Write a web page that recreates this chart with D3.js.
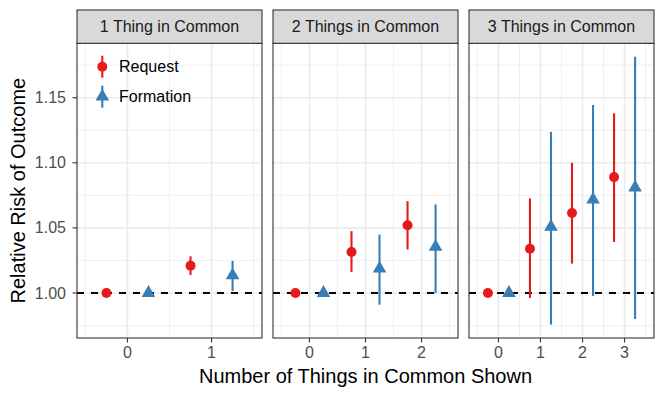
<!DOCTYPE html>
<html>
<head>
<meta charset="utf-8">
<script src="https://cdn.jsdelivr.net/npm/d3@7"></script>
<style>
  body { margin: 0; background: #fff; }
  text { font-family: "Liberation Sans", Arial, Helvetica, sans-serif; }
</style>
</head>
<body>
<div id="container"></div>
<script>
// facets, one per number of things in common
var panelTitles = ["1 Thing in Common", "2 Things in Common", "3 Things in Common"];
var shown = [[0, 1], [0, 1, 2], [0, 1, 2, 3]];
var seriesNames = ["Request", "Formation"];

// relative risk estimates and intervals, per panel
var requestEst = [[1.000, 1.021], [1.000, 1.0315, 1.052], [1.000, 1.034, 1.0615, 1.089]];
var requestLo = [[1.000, 1.0138], [1.000, 1.0162, 1.0334], [1.000, 0.9962, 1.0226, 1.0392]];
var requestHi = [[1.000, 1.0282], [1.000, 1.0475, 1.0705], [1.000, 1.0726, 1.100, 1.138]];
var formationEst = [[1.000, 1.0136], [1.000, 1.0188, 1.0354], [1.000, 1.0508, 1.0718, 1.081]];
var formationLo = [[1.000, 1.0015], [1.000, 0.991, 1.000], [1.000, 0.9757, 0.9977, 0.980]];
var formationHi = [[1.000, 1.0246], [1.000, 1.0449, 1.068], [1.000, 1.1238, 1.1444, 1.1815]];

var yTicks = [1.00, 1.05, 1.10, 1.15];
var yMinor = [0.975, 1.025, 1.075, 1.125, 1.175];

var width = 664, height = 399;
var colors = ["#E41A1C", "#377EB8"];
var dodge = 0.25;

var svg = d3.select("#container").append("svg")
    .attr("width", width).attr("height", height);

var panelTop = 43.3, panelBottom = 338, stripTop = 10;
var panelLeft = [77, 273, 469], panelW = 185;

// y scale shared, ggplot style 5% expansion
var allVals = d3.merge([].concat(requestLo, requestHi, formationLo, formationHi));
var ext = d3.extent(allVals);
var pad = (ext[1] - ext[0]) * 0.05;
var y = d3.scaleLinear().domain([ext[0] - pad, ext[1] + pad]).range([panelBottom, panelTop]);

var tri = d3.symbol().type(d3.symbolTriangle).size(80);

panelTitles.forEach(function (title, p) {
    var xs = shown[p];
    var lo = -0.5, hi = xs.length - 0.5;
    var xpad = (hi - lo) * 0.05;
    var x = d3.scaleLinear().domain([lo - xpad, hi + xpad])
        .range([panelLeft[p], panelLeft[p] + panelW]);

    var g = svg.append("g");
    g.append("rect").attr("x", panelLeft[p]).attr("y", panelTop)
        .attr("width", panelW).attr("height", panelBottom - panelTop).attr("fill", "#fff");

    // grid
    var xMinor = d3.range(lo, hi + 0.01, 1);
    g.selectAll(".ym").data(yMinor).enter().append("line")
        .attr("x1", panelLeft[p]).attr("x2", panelLeft[p] + panelW)
        .attr("y1", function (d) { return y(d); }).attr("y2", function (d) { return y(d); })
        .attr("stroke", "#EBEBEB").attr("stroke-width", 0.8);
    g.selectAll(".xm").data(xMinor).enter().append("line")
        .attr("y1", panelTop).attr("y2", panelBottom)
        .attr("x1", function (d) { return x(d); }).attr("x2", function (d) { return x(d); })
        .attr("stroke", "#EBEBEB").attr("stroke-width", 0.8);
    g.selectAll(".yM").data(yTicks).enter().append("line")
        .attr("x1", panelLeft[p]).attr("x2", panelLeft[p] + panelW)
        .attr("y1", function (d) { return y(d); }).attr("y2", function (d) { return y(d); })
        .attr("stroke", "#EBEBEB").attr("stroke-width", 1.6);
    g.selectAll(".xM").data(xs).enter().append("line")
        .attr("y1", panelTop).attr("y2", panelBottom)
        .attr("x1", function (d) { return x(d); }).attr("x2", function (d) { return x(d); })
        .attr("stroke", "#EBEBEB").attr("stroke-width", 1.6);

    // reference line
    g.append("line").attr("x1", panelLeft[p]).attr("x2", panelLeft[p] + panelW)
        .attr("y1", y(1)).attr("y2", y(1))
        .attr("stroke", "#000").attr("stroke-width", 2).attr("stroke-dasharray", "7,7");

    var sets = [
        { est: requestEst[p], lo: requestLo[p], hi: requestHi[p], off: -dodge, col: colors[0], shape: "circle" },
        { est: formationEst[p], lo: formationLo[p], hi: formationHi[p], off: dodge, col: colors[1], shape: "triangle" }
    ];
    sets.forEach(function (s) {
        var pts = xs.map(function (v, i) {
            return { x: v + s.off, est: s.est[i], lo: s.lo[i], hi: s.hi[i] };
        });
        g.selectAll(null).data(pts).enter().append("line")
            .attr("x1", function (d) { return x(d.x); }).attr("x2", function (d) { return x(d.x); })
            .attr("y1", function (d) { return y(d.lo); }).attr("y2", function (d) { return y(d.hi); })
            .attr("stroke", s.col).attr("stroke-width", 2.1);
        if (s.shape === "circle") {
            g.selectAll(null).data(pts).enter().append("circle")
                .attr("cx", function (d) { return x(d.x); }).attr("cy", function (d) { return y(d.est); })
                .attr("r", 5).attr("fill", s.col);
        } else {
            g.selectAll(null).data(pts).enter().append("path")
                .attr("d", tri)
                .attr("transform", function (d) { return "translate(" + x(d.x) + "," + y(d.est) + ")"; })
                .attr("fill", s.col);
        }
    });

    // border
    g.append("rect").attr("x", panelLeft[p]).attr("y", panelTop)
        .attr("width", panelW).attr("height", panelBottom - panelTop)
        .attr("fill", "none").attr("stroke", "#333").attr("stroke-width", 1.1);

    // strip
    g.append("rect").attr("x", panelLeft[p]).attr("y", stripTop)
        .attr("width", panelW).attr("height", panelTop - stripTop)
        .attr("fill", "#D9D9D9").attr("stroke", "#333").attr("stroke-width", 1.1);
    g.append("text").attr("x", panelLeft[p] + panelW / 2).attr("y", (stripTop + panelTop) / 2)
        .attr("dy", "0.35em").attr("text-anchor", "middle")
        .attr("font-size", 16).attr("fill", "#1A1A1A").text(title);

    // x axis
    var ax = g.append("g");
    ax.selectAll("line").data(xs).enter().append("line")
        .attr("x1", function (d) { return x(d); }).attr("x2", function (d) { return x(d); })
        .attr("y1", panelBottom).attr("y2", panelBottom + 4.5)
        .attr("stroke", "#333").attr("stroke-width", 1.1);
    ax.selectAll("text").data(xs).enter().append("text")
        .attr("x", function (d) { return x(d); }).attr("y", 358)
        .attr("text-anchor", "middle").attr("font-size", 16).attr("fill", "#4D4D4D")
        .text(function (d) { return d; });
});

// y axis on first panel
var yax = svg.append("g");
yax.selectAll("line").data(yTicks).enter().append("line")
    .attr("x1", panelLeft[0] - 4.5).attr("x2", panelLeft[0])
    .attr("y1", function (d) { return y(d); }).attr("y2", function (d) { return y(d); })
    .attr("stroke", "#333").attr("stroke-width", 1.1);
yax.selectAll("text").data(yTicks).enter().append("text")
    .attr("x", 66).attr("y", function (d) { return y(d); })
    .attr("dy", "0.35em").attr("text-anchor", "end").attr("font-size", 16).attr("fill", "#4D4D4D")
    .text(function (d) { return d3.format(".2f")(d); });

// axis titles
svg.append("text").attr("x", (panelLeft[0] + panelLeft[2] + panelW) / 2).attr("y", 383.3)
    .attr("text-anchor", "middle").attr("font-size", 20).attr("fill", "#000")
    .text("Number of Things in Common Shown");
svg.append("text").attr("transform", "translate(24.5," + (panelTop + panelBottom) / 2 + ") rotate(-90)")
    .attr("text-anchor", "middle").attr("font-size", 20).attr("fill", "#000")
    .text("Relative Risk of Outcome");

// legend inside first panel
var legend = svg.append("g");
var legY = [66.7, 96.7];
seriesNames.forEach(function (name, i) {
    var lx = 102.3, ly = legY[i];
    legend.append("line").attr("x1", lx).attr("x2", lx)
        .attr("y1", ly - 11).attr("y2", ly + 11)
        .attr("stroke", colors[i]).attr("stroke-width", 2.1);
    if (i === 0) {
        legend.append("circle").attr("cx", lx).attr("cy", ly).attr("r", 5).attr("fill", colors[i]);
    } else {
        legend.append("path").attr("d", tri).attr("transform", "translate(" + lx + "," + ly + ")")
            .attr("fill", colors[i]);
    }
    legend.append("text").attr("x", 119).attr("y", ly).attr("dy", "0.35em")
        .attr("font-size", 16).attr("fill", "#000").text(name);
});
</script>
</body>
</html>
